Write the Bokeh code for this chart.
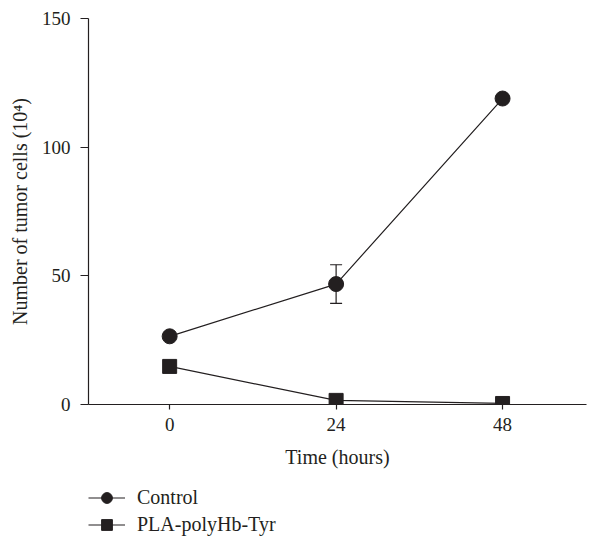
from bokeh.plotting import figure
from bokeh.layouts import column
from bokeh.models import Range1d, Legend, LegendItem, Whisker, ColumnDataSource, TeeHead, FixedTicker
from bokeh.embed import file_html
from bokeh.resources import INLINE

hours = [0, 24, 48]
control = [26.5, 46.8, 118.9]
control_upper = [None, 54.3, None]
control_lower = [None, 39.3, None]
pla = [14.8, 1.6, 0.4]
x_ticks = [0, 24, 48]
y_ticks = [0, 50, 100, 150]
series_names = ["Control", "PLA-polyHb-Tyr"]

FONT = "Liberation Serif"
INK = "#231f20"

p = figure(width=598, height=470, output_backend="svg", toolbar_location=None,
           x_range=Range1d(-11.7, 60.1), y_range=Range1d(0, 150),
           min_border_left=88, min_border_right=12, min_border_top=18,
           min_border_bottom=66)
p.outline_line_color = None
p.xgrid.visible = False
p.ygrid.visible = False

for ax in (p.xaxis[0], p.yaxis[0]):
    ax.axis_line_color = INK
    ax.axis_line_width = 1.2
    ax.major_tick_line_color = INK
    ax.major_tick_line_width = 1.2
    ax.minor_tick_line_color = None
    ax.major_tick_in = 0
    ax.major_label_text_font = FONT
    ax.major_label_text_font_size = "19px"
    ax.major_label_text_color = INK
    ax.axis_label_text_font = FONT
    ax.axis_label_text_font_size = "20px"
    ax.axis_label_text_font_style = "normal"
    ax.axis_label_text_color = INK

p.xaxis.ticker = FixedTicker(ticks=x_ticks)
p.yaxis.ticker = FixedTicker(ticks=y_ticks)
p.xaxis.major_tick_out = 5
p.yaxis.major_tick_out = 8
p.xaxis.major_label_standoff = 8
p.yaxis.major_label_standoff = 10
p.xaxis.axis_label = "Time (hours)"
p.yaxis.axis_label = "Number of tumor cells (10\u2074)"
p.xaxis.axis_label_standoff = 12
p.yaxis.axis_label_standoff = 8

src_c = ColumnDataSource(dict(x=hours, y=control))
src_p = ColumnDataSource(dict(x=hours, y=pla))
err = ColumnDataSource(dict(x=[hours[1]], upper=[control_upper[1]], lower=[control_lower[1]]))

w = Whisker(source=err, base="x", upper="upper", lower="lower",
            line_color=INK, line_width=1.2,
            upper_head=TeeHead(size=12, line_color=INK, line_width=1.2),
            lower_head=TeeHead(size=12, line_color=INK, line_width=1.2))
p.add_layout(w)

p.line("x", "y", source=src_c, line_color=INK, line_width=1.2)
p.scatter("x", "y", source=src_c, marker="circle", size=15, fill_color=INK, line_color=INK)
p.line("x", "y", source=src_p, line_color=INK, line_width=1.2)
p.scatter("x", "y", source=src_p, marker="square", size=14, fill_color=INK, line_color=INK)

# legend panel below the chart (its renderers share the data but lie outside its view)
lg = figure(width=598, height=68, output_backend="svg", toolbar_location=None,
            x_range=Range1d(1000, 1001), y_range=Range1d(1000, 1001),
            min_border_left=88, min_border_right=12, min_border_top=0, min_border_bottom=0)
lg.outline_line_color = None
lg.axis.visible = False
lg.grid.visible = False
l1 = lg.line("x", "y", source=src_c, line_color=INK, line_width=1.2)
m1 = lg.scatter("x", "y", source=src_c, marker="circle", size=15, fill_color=INK, line_color=INK)
l2 = lg.line("x", "y", source=src_p, line_color=INK, line_width=1.2)
m2 = lg.scatter("x", "y", source=src_p, marker="square", size=14, fill_color=INK, line_color=INK)

legend = Legend(items=[LegendItem(label=series_names[0], renderers=[l1, m1]),
                       LegendItem(label=series_names[1], renderers=[l2, m2])],
                location=(0, 0), orientation="vertical")
legend.border_line_color = None
legend.background_fill_alpha = 0
legend.padding = 0
legend.margin = 0
legend.spacing = 0
legend.glyph_width = 37
legend.glyph_height = 27
legend.label_standoff = 12
legend.label_text_font = FONT
legend.label_text_font_size = "20px"
legend.label_text_color = INK
legend.label_height = 27
lg.add_layout(legend, "center")

layout = column(p, lg, spacing=0)
open("out.html", "w").write(file_html(layout, INLINE))
